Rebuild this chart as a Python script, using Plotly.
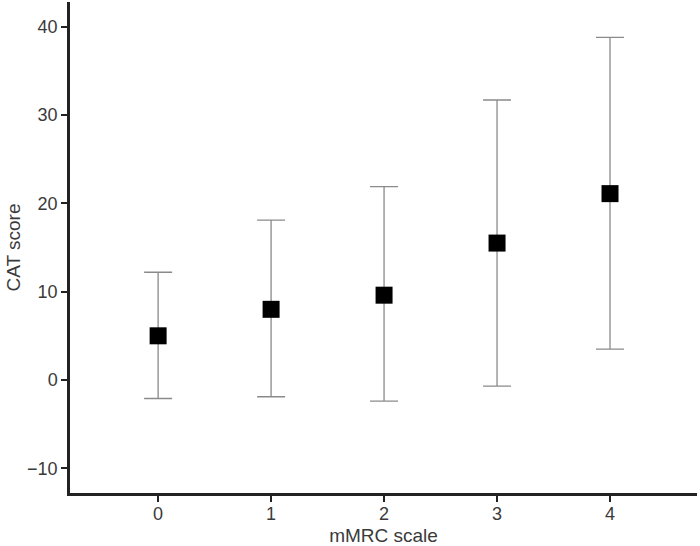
import plotly.graph_objects as go

categories = [0, 1, 2, 3, 4]
means = [5.0, 8.0, 9.6, 15.5, 21.1]
upper = [12.2, 18.1, 21.9, 31.7, 38.8]
lower = [-2.1, -1.9, -2.4, -0.7, 3.5]
ytick_vals = [-10, 0, 10, 20, 30, 40]
ytick_text = ["\u221210", "0", "10", "20", "30", "40"]

err_plus = [u - m for u, m in zip(upper, means)]
err_minus = [m - l for m, l in zip(means, lower)]

fig = go.Figure()
fig.add_trace(go.Scatter(
    x=categories, y=means, mode="markers",
    marker=dict(symbol="square", size=17, color="black"),
    error_y=dict(type="data", symmetric=False, array=err_plus, arrayminus=err_minus,
                 color="#8a8a8a", thickness=1.3, width=14),
    showlegend=False,
))

font = dict(family="Liberation Sans, Arial, sans-serif", size=18, color="#3a3a3a")
title_font = dict(family="Liberation Sans, Arial, sans-serif", size=19, color="#3a3a3a")
fig.update_layout(
    width=700, height=546,
    margin=dict(l=70, r=3, t=2, b=53),
    paper_bgcolor="white", plot_bgcolor="white",
    font=font,
    xaxis=dict(range=[-0.78, 4.77], tickvals=categories, ticktext=[str(c) for c in categories],
               tickfont=font, ticklabelstandoff=-3,
               showline=True, linecolor="#222", linewidth=2.5, ticks="outside", ticklen=6,
               tickcolor="#222", tickwidth=2, showgrid=False, zeroline=False, automargin=False,
               title=dict(text="mMRC scale", standoff=7, font=title_font)),
    yaxis=dict(range=[-12.8, 42.8], tickvals=ytick_vals, ticktext=ytick_text,
               tickfont=font,
               showline=True, linecolor="#222", linewidth=2.5, ticks="outside", ticklen=6,
               tickcolor="#222", tickwidth=2, showgrid=False, zeroline=False, automargin=False,
               title=dict(text="CAT score", standoff=2, font=title_font)),
)
fig.write_html("out.html", config={"displayModeBar": False},
               post_script="document.body.style.margin='0';")
